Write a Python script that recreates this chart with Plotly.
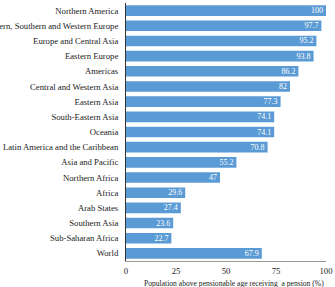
import plotly.graph_objects as go

categories = ["Northern America", "Northern, Southern and Western Europe", "Europe and Central Asia",
              "Eastern Europe", "Americas", "Central and Western Asia", "Eastern Asia",
              "South-Eastern Asia", "Oceania", "Latin America and the Caribbean", "Asia and Pacific",
              "Northern Africa", "Africa", "Arab States", "Southern Asia", "Sub-Saharan Africa", "World"]
values = [100, 97.7, 95.2, 93.8, 86.2, 82, 77.3, 74.1, 74.1, 70.8, 55.2, 47, 29.6, 27.4, 23.6, 22.7, 67.9]
tick_vals = [0, 25, 50, 75, 100]
x_title = "Population above pensionable age receiving  a pension (%)"

SERIF = "Liberation Serif"

fig = go.Figure(go.Bar(
    x=values, y=categories, orientation="h",
    marker=dict(color="#5B9BD5", line=dict(width=0)),
    text=[str(v) for v in values], textposition="inside", insidetextanchor="end",
    textfont=dict(family=SERIF, size=8, color="white"),
    textangle=0, cliponaxis=False, width=0.7,
))
fig.update_layout(
    width=335, height=287, margin=dict(l=126, r=9, t=3, b=26, autoexpand=False),
    plot_bgcolor="white", paper_bgcolor="white", showlegend=False,
    font=dict(family=SERIF, size=8.7, color="#222"),
    uniformtext=dict(minsize=8, mode="show"),
)
fig.update_yaxes(autorange="reversed", showline=True, linecolor="#333", linewidth=1,
                 ticks="", ticklabelstandoff=5, showgrid=False, automargin=False)
fig.update_xaxes(range=[0, 100], tickvals=tick_vals, showline=True, linecolor="#999", linewidth=1,
                 showgrid=False, zeroline=False, ticks="", automargin=False,
                 ticklabeloverflow="allow", ticklabelstandoff=2)
fig.add_annotation(text=x_title, xref="paper", yref="paper", x=0.54, y=0,
                   xanchor="center", yanchor="middle", yshift=-22, showarrow=False,
                   font=dict(family=SERIF, size=7.6, color="#222"))
fig.write_html("out.html")
